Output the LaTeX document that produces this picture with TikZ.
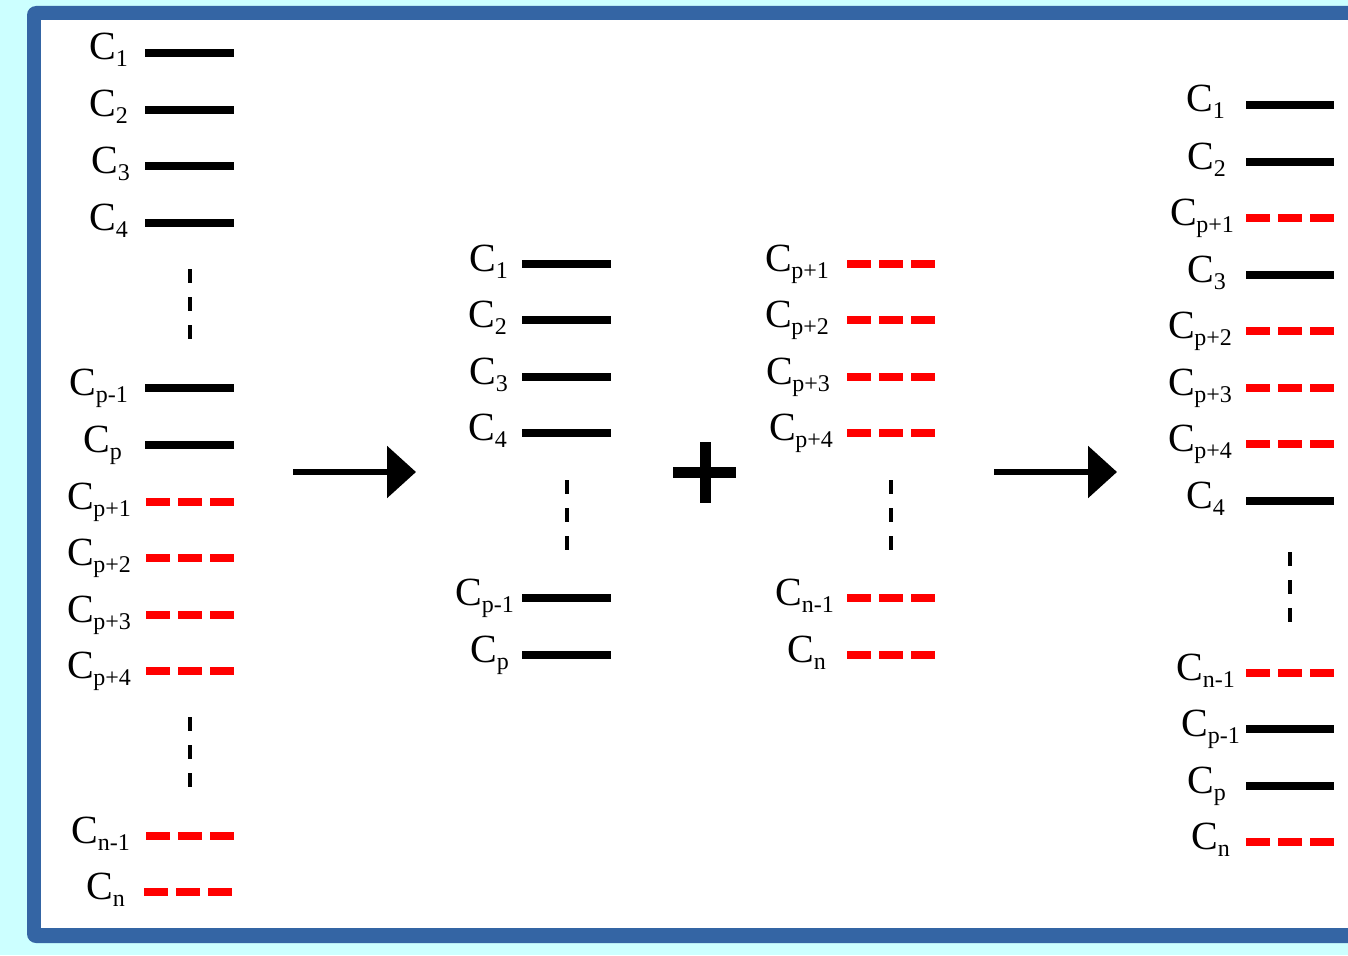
\documentclass[tikz,border=0pt]{standalone}
\usepackage{fontspec}
\setmainfont{Liberation Serif}
\usetikzlibrary{arrows.meta}
\definecolor{bgcyan}{RGB}{204,255,255}
\definecolor{frameblue}{RGB}{52,101,164}
\newcommand\subsz{\fontsize{24}{24}\selectfont}
\newcommand\Cs[1]{C\kern-0.5pt\raisebox{-7pt}{\subsz #1}}
% name, xleft, xright, y, label right x, subscript, style
\newcommand\lev[7]{%
  \coordinate (#1-a) at (#2,#4);
  \coordinate (#1-b) at (#3,#4);
  \node[lbl] (#1-l) at (#5,#4+7) {\Cs{#6}};
  \draw[#7] (#1-a) -- (#1-b);
}
\newcommand\vdashline[4]{% name, x, y1, y2
  \coordinate (#1-a) at (#2,#3);
  \coordinate (#1-b) at (#2,#4);
  \draw[vdash] (#1-a) -- (#1-b);
}
\begin{document}
\begin{tikzpicture}[x=1pt,y=-1pt,
  lbl/.style={anchor=base east,inner sep=0pt,font=\fontsize{40}{40}\selectfont},
  solidbar/.style={line width=8pt,black},
  redbar/.style={line width=8pt,red,dash pattern=on 24pt off 8pt},
  vdash/.style={line width=4.5pt,black,dash pattern=on 14pt off 14pt},
  bigarrow/.style={line width=6pt,-{Triangle[length=29pt,width=51pt]}}]
\useasboundingbox (0,0) rectangle (1348,955);
\fill[bgcyan] (0,0) rectangle (1348,955);
\begin{scope}
\clip (0,0) rectangle (1348,955);
\fill[frameblue,rounded corners=9pt] (27,6) rectangle (1380,943);
\fill[white] (41,20) rectangle (1380,928);
\end{scope}
% left column
\lev{la1}{145}{234}{53}{128}{1}{solidbar}
\lev{la2}{145}{234}{110}{128}{2}{solidbar}
\lev{la3}{145}{234}{166}{130}{3}{solidbar}
\lev{la4}{145}{234}{223}{128}{4}{solidbar}
\vdashline{ld1}{190}{269}{341}
\lev{lapm}{145}{234}{388}{128}{p-1}{solidbar}
\lev{lap}{145}{234}{445}{122}{p}{solidbar}
\lev{lb1}{146}{234}{502}{131}{p+1}{redbar}
\lev{lb2}{146}{234}{558}{131}{p+2}{redbar}
\lev{lb3}{146}{234}{615}{131}{p+3}{redbar}
\lev{lb4}{146}{234}{671}{131}{p+4}{redbar}
\vdashline{ld2}{190}{717}{789}
\lev{lbnm}{146}{234}{836}{130}{n-1}{redbar}
\lev{lbn}{144}{232}{892}{125}{n}{redbar}
% arrow 1
\coordinate (ar1s) at (293,472);
\coordinate (ar1e) at (416,472);
\draw[bigarrow] (ar1s) -- (ar1e);
% middle column 1
\lev{ma1}{522}{611}{264}{508}{1}{solidbar}
\lev{ma2}{522}{611}{320}{507}{2}{solidbar}
\lev{ma3}{522}{611}{377}{508}{3}{solidbar}
\lev{ma4}{522}{611}{433}{507}{4}{solidbar}
\vdashline{md1}{567}{480}{552}
\lev{mapm}{522}{611}{598}{514}{p-1}{solidbar}
\lev{map}{522}{611}{655}{509}{p}{solidbar}
% plus
\coordinate (plh1) at (673,472);
\coordinate (plh2) at (736,472);
\coordinate (plv1) at (705,442);
\coordinate (plv2) at (705,503);
\draw[line width=11pt] (plh1) -- (plh2);
\draw[line width=11pt] (plv1) -- (plv2);
% middle column 2
\lev{mb1}{847}{935}{264}{829}{p+1}{redbar}
\lev{mb2}{847}{935}{320}{829}{p+2}{redbar}
\lev{mb3}{847}{935}{377}{830}{p+3}{redbar}
\lev{mb4}{847}{935}{433}{833}{p+4}{redbar}
\vdashline{md2}{891}{480}{552}
\lev{mbnm}{847}{935}{598}{834}{n-1}{redbar}
\lev{mbn}{847}{935}{655}{826}{n}{redbar}
% arrow 2
\coordinate (ar2s) at (994,472);
\coordinate (ar2e) at (1117,472);
\draw[bigarrow] (ar2s) -- (ar2e);
% right column
\lev{r1}{1246}{1334}{105}{1225}{1}{solidbar}
\lev{r2}{1246}{1334}{162}{1226}{2}{solidbar}
\lev{r3}{1246}{1334}{218}{1234}{p+1}{redbar}
\lev{r4}{1246}{1334}{275}{1226}{3}{solidbar}
\lev{r5}{1246}{1334}{331}{1232}{p+2}{redbar}
\lev{r6}{1246}{1334}{388}{1232}{p+3}{redbar}
\lev{r7}{1246}{1334}{444}{1232}{p+4}{redbar}
\lev{r8}{1246}{1334}{501}{1225}{4}{solidbar}
\vdashline{rd}{1290}{552}{624}
\lev{r9}{1246}{1334}{673}{1235}{n-1}{redbar}
\lev{r10}{1246}{1334}{729}{1240}{p-1}{solidbar}
\lev{r11}{1246}{1334}{786}{1226}{p}{solidbar}
\lev{r12}{1246}{1334}{842}{1230}{n}{redbar}
\end{tikzpicture}
\end{document}
